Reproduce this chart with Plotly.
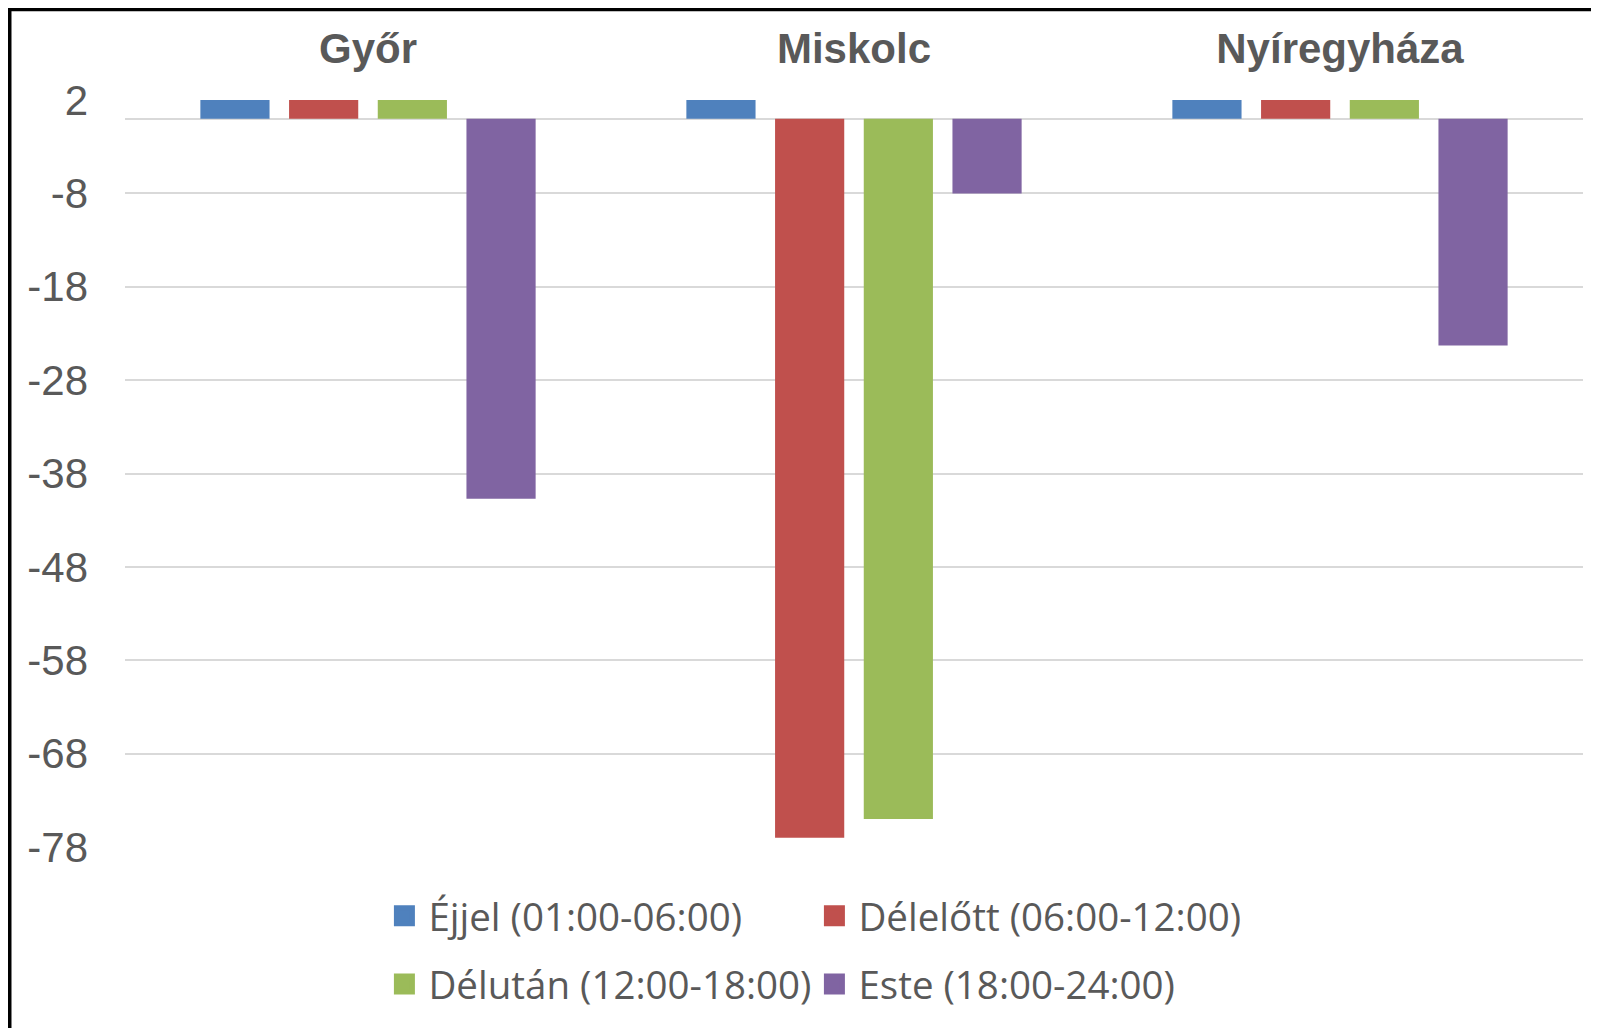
import plotly.graph_objects as go

cities = ["Győr", "Miskolc", "Nyíregyháza"]
series_names = ["Éjjel (01:00-06:00)", "Délelőtt (06:00-12:00)",
                "Délután (12:00-18:00)", "Este (18:00-24:00)"]
ejjel = [2, 2, 2]
delelott = [2, -77, 2]
delutan = [2, -75, 2]
este = [-40.7, -8, -24.3]
y_ticks = [2, -8, -18, -28, -38, -48, -58, -68, -78]

colors = ["#4F81BD", "#C0504D", "#9BBB59", "#8064A2"]
values = [ejjel, delelott, delutan, este]
legend_ids = ["legend", "legend", "legend2", "legend2"]

W, H = 1599, 1028
OFF = 8  # page body margin
# desired plot area in window pixels
PX0, PX1, PY0, PY1 = 124.5, 1583, 100, 846.7
L = PX0 - OFF
T = PY0 - OFF
R = W - (PX1 - OFF)
B = H - (PY1 - OFF)
plot_w = PX1 - PX0
plot_h = PY1 - PY0

def px_x(px):
    return (px - PX0) / plot_w

def px_y(py):
    return (PY1 - py) / plot_h

fig = go.Figure()
for name, vals, col in zip(series_names, values, colors):
    fig.add_trace(go.Bar(
        x=cities, y=vals, name=name, marker=dict(color=col, line=dict(width=0)),
        showlegend=False,
    ))
# legend entries
for name, col, lg in zip(series_names, colors, legend_ids):
    fig.add_trace(go.Scatter(
        x=[None], y=[None], mode="markers", name=name, legend=lg,
        marker=dict(symbol="square", size=16, color=col, line=dict(color=col, width=5)),
        showlegend=True, hoverinfo="skip",
    ))

font_main = "Liberation Sans, Arial, sans-serif"
legend_font = dict(family="Open Sans, sans-serif", size=38.5, color="#595959")

fig.update_layout(
    width=W, height=H,
    margin=dict(l=L, r=R, t=T, b=B, pad=0),
    paper_bgcolor="white", plot_bgcolor="white",
    barmode="group", bargap=0.27, bargroupgap=0.22,
    xaxis=dict(
        side="top", showgrid=False, showline=False, zeroline=False, ticks="",
        tickfont=dict(family=font_main, size=42, color="#595959", weight="bold"),
        ticklabelstandoff=28,
    ),
    yaxis=dict(
        range=[-78, 2], tickmode="array", tickvals=y_ticks,
        ticktext=[str(v) for v in y_ticks],
        showgrid=True, gridcolor="#D9D9D9", gridwidth=1.5,
        zeroline=True, zerolinecolor="#D9D9D9", zerolinewidth=2,
        showline=False, ticks="",
        tickfont=dict(family=font_main, size=42, color="#595959"),
        ticklabelstandoff=36,
    ),
    legend=dict(
        orientation="h", x=px_x(380), xanchor="left", y=px_y(916), yanchor="middle",
        font=legend_font, itemwidth=38, entrywidth=377, entrywidthmode="pixels",
        bgcolor="rgba(0,0,0,0)", borderwidth=0,
    ),
    legend2=dict(
        orientation="h", x=px_x(380), xanchor="left", y=px_y(984), yanchor="middle",
        font=legend_font, itemwidth=38, entrywidth=377, entrywidthmode="pixels",
        bgcolor="rgba(0,0,0,0)", borderwidth=0,
    ),
    shapes=[dict(
        type="rect", xref="paper", yref="paper",
        x0=px_x(9.2), x1=px_x(1640), y0=px_y(1060), y1=px_y(9.5),
        line=dict(color="black", width=3.5), fillcolor="rgba(0,0,0,0)", layer="above",
    )],
)

fig.write_html("out.html")
